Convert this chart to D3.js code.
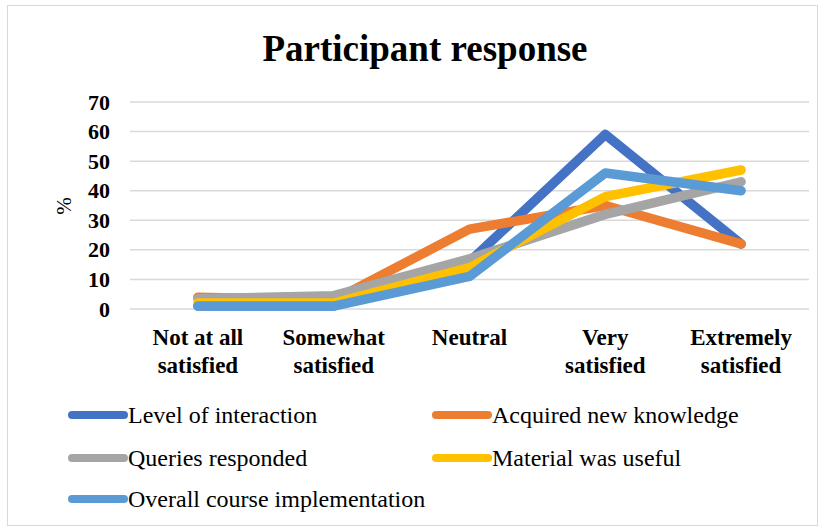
<!DOCTYPE html>
<html><head><meta charset="utf-8">
<script src="https://cdn.jsdelivr.net/npm/d3@7"></script>
<style>body{margin:0;background:#fff}svg{display:block}</style>
</head><body>
<svg id="c" width="823" height="531" font-family="Liberation Serif" style="font-family:Liberation Serif"></svg>
<script>
const categories = [["Not at all","satisfied"],["Somewhat","satisfied"],["Neutral"],["Very","satisfied"],["Extremely","satisfied"]];
const seriesNames = ["Level of interaction","Acquired new knowledge","Queries responded","Material was useful","Overall course implementation"];
const levelOfInteraction = [1, 1, 16, 59, 22];
const acquiredNewKnowledge = [4, 3, 27, 35, 22];
const queriesResponded = [3.5, 4.5, 17, 32, 43];
const materialWasUseful = [2, 2, 14, 38, 47];
const overallCourse = [1, 1, 11, 46, 40];
const yTicks = [0,10,20,30,40,50,60,70];
const colors = ["#4472C4","#ED7D31","#A5A5A5","#FFC000","#5B9BD5"];
const seriesValues = [levelOfInteraction, acquiredNewKnowledge, queriesResponded, materialWasUseful, overallCourse];

const F = "Liberation Serif";
const svg = d3.select("#c");
svg.append("rect").attr("x",7.5).attr("y",5.5).attr("width",810).attr("height",520)
  .attr("fill","#fff").attr("stroke","#d9d9d9").attr("stroke-width",1);

const x = d3.scaleBand().domain(d3.range(categories.length)).range([130,809]);
const y = d3.scaleLinear().domain([0,70]).range([309,102]);

svg.append("text").attr("x",425).attr("y",61).attr("text-anchor","middle").attr("font-family",F).style("font-family",F)
  .attr("font-weight","bold").attr("font-size",37).text("Participant response");

svg.selectAll("line.grid").data(yTicks).join("line").attr("class","grid")
  .attr("x1",130).attr("x2",809).attr("y1",d=>y(d)).attr("y2",d=>y(d))
  .attr("stroke","#d9d9d9").attr("stroke-width",1.5);

svg.selectAll("text.ytick").data(yTicks).join("text").attr("class","ytick")
  .attr("x",110).attr("y",d=>y(d)+7.5).attr("text-anchor","end").attr("font-family",F).style("font-family",F)
  .attr("font-weight","bold").attr("font-size",22).text(d=>d);

svg.append("text").attr("transform","translate(71,206) rotate(-90)").attr("text-anchor","middle")
  .attr("font-family",F).style("font-family",F).attr("font-size",21).text("%");

categories.forEach((lines,i)=>{
  lines.forEach((t,j)=>{
    svg.append("text").attr("text-anchor","middle").attr("font-family",F).style("font-family",F)
      .attr("font-weight","bold").attr("font-size",23)
      .attr("x",x(i)+x.bandwidth()/2).attr("y",345+j*28).text(t);
  });
});

const line = d3.line().x((d,i)=>x(i)+x.bandwidth()/2).y(d=>y(d));
svg.selectAll("path.series").data(seriesValues).join("path").attr("class","series")
  .attr("d",d=>line(d)).attr("fill","none").attr("stroke",(d,i)=>colors[i])
  .attr("stroke-width",9.5).attr("stroke-linecap","round").attr("stroke-linejoin","round");

const legPos = [[68,415],[432,415],[68,458],[432,458],[68,499]];
seriesNames.forEach((name,i)=>{
  const [lx,ly] = legPos[i];
  svg.append("line").attr("x1",lx+4).attr("x2",lx+56).attr("y1",ly).attr("y2",ly)
    .attr("stroke",colors[i]).attr("stroke-width",8).attr("stroke-linecap","round");
  svg.append("text").attr("x",lx+60).attr("y",ly+8).attr("font-family",F).style("font-family",F)
    .attr("font-size",24).text(name);
});
</script>
</body></html>
